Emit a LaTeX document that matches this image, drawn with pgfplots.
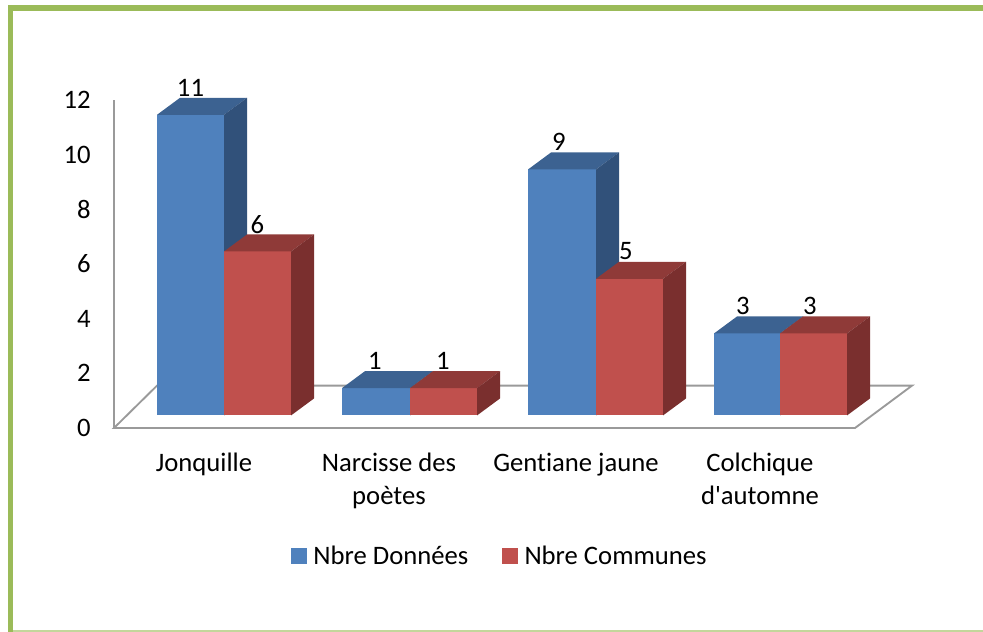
\documentclass[border=0pt]{standalone}
\usepackage{fontspec}
\setmainfont{Carlito}[Ligatures={TeXOff,NoCommon}]
\usepackage{pgfplots}
\pgfplotsset{compat=1.18}
\definecolor{bleu}{HTML}{4F81BD}
\definecolor{bleuhaut}{HTML}{3C6291}
\definecolor{bleucote}{HTML}{31517A}
\definecolor{rouge}{HTML}{C0504D}
\definecolor{rougehaut}{HTML}{8F3A38}
\definecolor{rougecote}{HTML}{7A2F2E}
\definecolor{cadre}{HTML}{9BBB59}
\definecolor{sol}{HTML}{9A9A9A}
\pgfplotsset{
	barface/.style={fill=#1, draw=none, forget plot, yshift=9.4pt},
}
% x0, x1, valeur, couleurs (face, dessus, cote)
\newcommand{\barre}[6]{
	\addplot[barface=#4] coordinates {(#1,0) (#2,0) (#2,#3) (#1,#3)} --cycle;
	\addplot[barface=#5] coordinates {(#1,#3) (#2,#3) (#2+23,#3+0.622) (#1+23,#3+0.622)} --cycle;
	\addplot[barface=#6] coordinates {(#2,0) (#2+23,0.622) (#2+23,#3+0.622) (#2,#3)} --cycle;
}
\begin{document}
\begin{tikzpicture}[x=0.75pt,y=-0.75pt]
	\path[use as bounding box] (0,0) rectangle (983,632);
	\draw[cadre, line width=4.1pt] (10.5,632) -- (10.5,8) -- (983,8);
	\draw[cadre!60, line width=1pt] (13,631) -- (983,631);
	\begin{axis}[
		at={(85.5pt,-321pt)}, anchor=south west,
		scale only axis,
		width=598.5pt, height=246pt,
		xmin=114, xmax=912,
		ymin=0, ymax=12,
		clip=false,
		axis line style={draw=none},
		tick style={draw=none},
		xtick={204,389,576,760},
		xticklabels={Jonquille, Narcisse des\\poètes, Gentiane jaune, Colchique\\d'automne},
		ytick={0,2,4,6,8,10,12},
		/pgf/number format/assume math mode=true,
		tick label style={font=\fontsize{20pt}{24.75pt}\selectfont},
		xticklabel style={align=center, yshift=-15.5pt},
		yticklabel style={xshift=-14pt},
		legend columns=2,
		legend cell align=left,
		legend style={draw=none, fill=none, font=\fontsize{20pt}{22pt}\selectfont,
			at={(0.484,-0.39)}, anchor=center,
			/tikz/every even column/.append style={column sep=23.5pt},
			/tikz/every odd column/.append style={column sep=3pt}},
		legend image code/.code={\fill[#1] (0pt,-5.6pt) rectangle (11.25pt,5.6pt);},
		]
		% sol et paroi
		\addplot[sol, line width=1.4pt, forget plot] coordinates {(114,0) (855,0) (912,1.55) (157,1.55)} --cycle;
		\addplot[sol, line width=1.4pt, forget plot] coordinates {(114,0) (114,12)};
		% barres
		\barre{157}{224}{11}{bleu}{bleuhaut}{bleucote}
		\barre{224}{291}{6}{rouge}{rougehaut}{rougecote}
		\barre{342}{410}{1}{bleu}{bleuhaut}{bleucote}
		\barre{410}{477}{1}{rouge}{rougehaut}{rougecote}
		\barre{528}{596}{9}{bleu}{bleuhaut}{bleucote}
		\barre{596}{663}{5}{rouge}{rougehaut}{rougecote}
		\barre{714}{780}{3}{bleu}{bleuhaut}{bleucote}
		\barre{780}{847}{3}{rouge}{rougehaut}{rougecote}
		% etiquettes
		\addplot[draw=none, forget plot, yshift=9.4pt, nodes near coords, point meta=y,
			every node near coord/.append style={anchor=center, yshift=20.5pt, font=\fontsize{20pt}{22pt}\selectfont,
				/pgf/number format/assume math mode=true}]
			coordinates {(190.5,11) (257.5,6) (375,1) (443,1) (559,9) (626,5) (743,3) (810,3)};
		\addlegendimage{bleu}
		\addlegendentry{Nbre Données}
		\addlegendimage{rouge}
		\addlegendentry{Nbre Communes}
	\end{axis}
\end{tikzpicture}
\end{document}
